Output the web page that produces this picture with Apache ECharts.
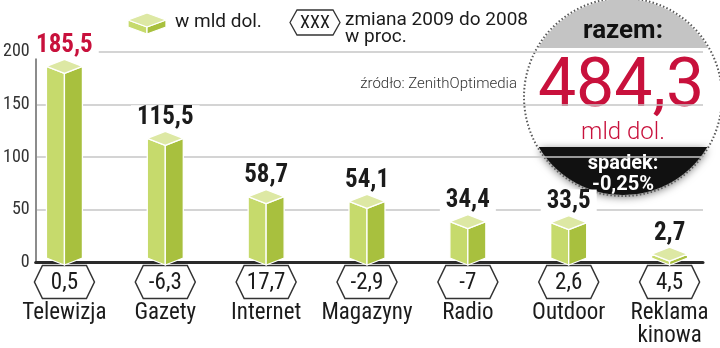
<!DOCTYPE html>
<html>
<head>
<meta charset="utf-8">
<script src="https://cdn.jsdelivr.net/npm/echarts@6/dist/echarts.min.js"></script>
<style>
  html, body { margin: 0; padding: 0; background: #fff; }
  #chart { width: 720px; height: 348px; }
</style>
</head>
<body>
<div id="chart"></div>
<script>
// Wydatki na reklamę w 2009 r. według mediów (mld dol.) i zmiana wobec 2008 (%)
const categories = ['Telewizja', 'Gazety', 'Internet', 'Magazyny', 'Radio', 'Outdoor', 'Reklama\nkinowa'];
const spending = [185.5, 115.5, 58.7, 54.1, 34.4, 33.5, 2.7];
const changePct = [0.5, -6.3, 17.7, -2.9, -7, 2.6, 4.5];
const yTicks = [0, 50, 100, 150, 200];
const totalText = '484,3';
const totalDropText = '-0,25%';

const COND = "'Liberation Sans Narrow', 'Roboto Condensed', 'Arial Narrow', Roboto, sans-serif";
const SANS = "Roboto, 'Noto Sans', sans-serif";
const RED = '#c8113c';
const FACE_TOP = '#dde8a4';
const FACE_LEFT = '#c6da6c';
const FACE_RIGHT = '#a8c03e';

const fmt = v => String(v).replace('.', ',');

// prism (3D bar) polygons around centre x, top-face centre y, base y
function prism(cx, yv, y0, hw, hh) {
  const edge = { stroke: '#ffffff', lineWidth: 1.3, lineJoin: 'round' };
  return [
    { type: 'polygon', shape: { points: [[cx - hw, yv], [cx, yv + hh], [cx, y0 + hh], [cx - hw, y0]] },
      style: Object.assign({ fill: FACE_LEFT }, edge) },
    { type: 'polygon', shape: { points: [[cx, yv + hh], [cx + hw, yv], [cx + hw, y0], [cx, y0 + hh]] },
      style: Object.assign({ fill: FACE_RIGHT }, edge) },
    { type: 'polygon', shape: { points: [[cx, yv - hh], [cx + hw, yv], [cx, yv + hh], [cx - hw, yv]] },
      style: Object.assign({ fill: FACE_TOP }, edge) }
  ];
}

function hexagon(cx, cy, hw, flat, hh) {
  return [[cx - hw, cy], [cx - flat, cy - hh], [cx + flat, cy - hh], [cx + hw, cy], [cx + flat, cy + hh], [cx - flat, cy + hh]];
}

function renderBar(params, api) {
  const i = api.value(0);
  const v = api.value(1);
  const top = api.coord([i, v]);
  const base = api.coord([i, 0]);
  const cx = top[0], yv = top[1], y0 = base[1] + 1;
  const children = [];
  children.push({
    type: 'text', z2: 1,
    style: {
      text: fmt(v), x: cx, y: yv - 8, align: 'center', verticalAlign: 'bottom',
      font: 'bold 25px ' + COND, fill: i === 0 ? RED : '#1b1b1b',
      backgroundColor: '#ffffff', padding: [0, 6, 0, 6]
    }
  });
  prism(cx, Math.min(yv, y0 - 1), y0, 18, 7).forEach(p => { p.z2 = 2; children.push(p); });
  return { type: 'group', children };
}

function renderChange(params, api) {
  const i = api.value(0);
  const base = api.coord([i, 0]);
  const cx = base[0], cy = base[1] + 25;
  return {
    type: 'group',
    children: [
      { type: 'polygon', shape: { points: hexagon(cx, cy, 30, 22, 16.5) },
        style: { fill: '#fff', stroke: '#333', lineWidth: 1.5 } },
      { type: 'text', style: { text: fmt(api.value(1)), x: cx, y: cy + 1, align: 'center', verticalAlign: 'middle',
        font: '23px ' + COND, fill: '#1b1b1b' } }
    ]
  };
}

// circular badge with the total
const BC = { x: 623, y: 97, r: 98 };
function circleBand(yA, yB) {
  yA = Math.max(yA, BC.y - BC.r);
  yB = Math.min(yB, BC.y + BC.r);
  const pts = [];
  const n = 48;
  for (let k = 0; k <= n; k++) {
    const y = yA + (yB - yA) * k / n;
    pts.push([BC.x + Math.sqrt(Math.max(0, BC.r * BC.r - (y - BC.y) * (y - BC.y))), y]);
  }
  for (let k = n; k >= 0; k--) {
    const y = yA + (yB - yA) * k / n;
    pts.push([BC.x - Math.sqrt(Math.max(0, BC.r * BC.r - (y - BC.y) * (y - BC.y))), y]);
  }
  return pts;
}

const legendCube = prism(147, 20, 27, 19, 7);

const chart = echarts.init(document.getElementById('chart'), null, { renderer: 'canvas' });
chart.setOption({
  animation: false,
  backgroundColor: '#ffffff',
  grid: [
    { left: 33, right: 17, top: 51.5, bottom: 85.5 },
    { left: 14, right: 0, top: 51.5, bottom: 85.5 }
  ],
  xAxis: [
    { gridIndex: 0, type: 'value', min: 0, max: 1,
      axisLine: { show: true, lineStyle: { color: '#2a2a2a', width: 3 } },
      axisTick: { show: false }, axisLabel: { show: false }, splitLine: { show: false } },
    { gridIndex: 1, type: 'category', data: categories,
      axisLine: { show: false }, axisTick: { show: false }, splitLine: { show: false },
      axisLabel: { margin: 45, fontSize: 23, lineHeight: 23, color: '#1b1b1b', fontFamily: COND, interval: 0 } }
  ],
  yAxis: [
    { gridIndex: 0, type: 'value', min: yTicks[0], max: yTicks[yTicks.length - 1], interval: yTicks[1] - yTicks[0],
      axisLine: { show: true, lineStyle: { color: '#8c8c8c', width: 2 } },
      axisTick: { show: false },
      axisLabel: { margin: 6, fontSize: 18, color: '#333', fontFamily: COND },
      splitLine: { lineStyle: { color: '#c6c6c6', width: 1.5 } } },
    { gridIndex: 1, type: 'value', min: yTicks[0], max: yTicks[yTicks.length - 1], show: false }
  ],
  series: [
    { type: 'custom', xAxisIndex: 1, yAxisIndex: 1, z: 3,
      data: spending.map((v, i) => [i, v]), renderItem: renderBar },
    { type: 'custom', xAxisIndex: 1, yAxisIndex: 1, z: 3,
      data: changePct.map((v, i) => [i, v]), renderItem: renderChange }
  ],
  graphic: [
    // legend
    { type: 'group', children: legendCube },
    { type: 'text', style: { text: 'w mld dol.', x: 175, y: 22, verticalAlign: 'middle', font: '19px ' + SANS, fill: '#1b1b1b' } },
    { type: 'polygon', shape: { points: hexagon(315, 22.5, 25, 18, 12.5) }, style: { fill: '#fff', stroke: '#333', lineWidth: 1.3 } },
    { type: 'text', style: { text: 'XXX', x: 315, y: 23, align: 'center', verticalAlign: 'middle', font: '18px ' + COND, fill: '#1b1b1b' } },
    { type: 'text', style: { text: 'zmiana 2009 do 2008\nw proc.', x: 345, y: 12, verticalAlign: 'top', font: '19px ' + SANS, lineHeight: 17, fill: '#1b1b1b' } },
    { type: 'text', style: { text: 'źródło: ZenithOptimedia', x: 517, y: 84, align: 'right', verticalAlign: 'middle', font: '300 15px ' + SANS, fill: '#333' } },
    // total badge
    { type: 'group', z: 10, children: [
      { type: 'circle', shape: { cx: BC.x, cy: BC.y, r: BC.r }, style: { fill: '#ffffff' } },
      { type: 'polygon', shape: { points: circleBand(-20, 48) }, style: { fill: '#c4c4c4' } },
      { type: 'polygon', shape: { points: circleBand(147, 300) },
        style: { fill: '#111111', shadowBlur: 8, shadowColor: 'rgba(0,0,0,0.55)', shadowOffsetY: 2 } },
      { type: 'circle', shape: { cx: BC.x, cy: BC.y, r: BC.r + 1 },
        style: { fill: null, stroke: '#5a5a5a', lineWidth: 2, lineDash: [1.5, 2.2] } },
      { type: 'text', style: { text: 'razem:', x: BC.x, y: 31, align: 'center', verticalAlign: 'middle', font: 'bold 26px ' + SANS, fill: '#111' } },
      { type: 'text', style: { text: totalText, x: BC.x - 2, y: 89, align: 'center', verticalAlign: 'middle', font: '68px ' + SANS, fill: RED } },
      { type: 'text', style: { text: 'mld dol.', x: BC.x, y: 133, align: 'center', verticalAlign: 'middle', font: '300 24px ' + SANS, fill: RED } },
      { type: 'text', style: { text: 'spadek:', x: BC.x, y: 164, align: 'center', verticalAlign: 'middle', font: 'bold 20px ' + SANS, fill: '#fff' } },
      { type: 'text', style: { text: totalDropText, x: BC.x, y: 185, align: 'center', verticalAlign: 'middle', font: 'bold 20px ' + SANS, fill: '#fff' } }
    ] }
  ]
});
</script>
</body>
</html>
